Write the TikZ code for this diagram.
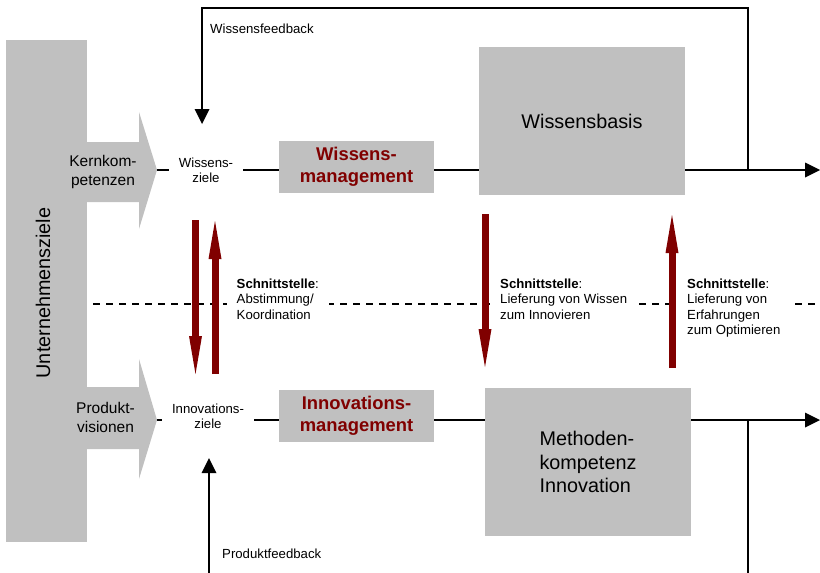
\documentclass[tikz,border=0pt]{standalone}
\usepackage{fontspec}
\setmainfont{Liberation Sans}
\usetikzlibrary{arrows.meta}
\definecolor{boxgray}{HTML}{C0C0C0}
\definecolor{darkred}{HTML}{800000}
\newcommand{\fsz}[2]{\fontsize{#1}{#2}\selectfont}
\begin{document}
\begin{tikzpicture}[x=1pt,y=-1pt,
  conn/.style={line width=1.6pt},
  blk/.style={-{Triangle[length=15pt,width=15pt,line width=0pt]}},
  redarr/.style={draw=darkred,line width=7pt,-{Triangle[length=38pt,width=13pt,line width=0pt]}},
  dashline/.style={line width=1.3pt,dash pattern=on 7pt off 6pt},
  mgmtbox/.style={fill=boxgray,inner sep=0pt,minimum width=155pt,minimum height=52pt,align=center,
    text=darkred,font=\bfseries\fsz{18.4}{21.5}},
  bigbox/.style={fill=boxgray,inner sep=0pt,minimum width=206pt,minimum height=148pt,font=\fsz{19.8}{23.5}},
  smalltxt/.style={font=\fsz{13.2}{15}},
  goaltxt/.style={smalltxt,align=center,inner xsep=10pt,inner ysep=0pt},
  sidetxt/.style={align=center,inner sep=0pt,font=\fsz{15.5}{18.5}},
  ifacetxt/.style={font=\fsz{13.2}{15.6},fill=white,inner xsep=10pt,inner ysep=2pt,anchor=base west}
]
\useasboundingbox (0,0) rectangle (820,573);

% Unternehmensziele bar with the two arrows
\node[fill=boxgray,inner sep=0pt,minimum width=81pt,minimum height=502pt] (uz) at (46.5,291) {};
\fill[boxgray] (87,142) -- (139,142) -- (139,112) -- (157,170) -- (139,229) -- (139,202) -- (87,202) -- cycle;
\fill[boxgray] (87,387) -- (139,387) -- (139,359) -- (157,420) -- (139,479) -- (139,449) -- (87,449) -- cycle;
\coordinate (ktip) at (157,170);
\coordinate (ptip) at (157,420);
\node[rotate=90,inner sep=0pt,font=\fsz{19.8}{23}] (uzt) at (43,293) {Unternehmensziele};
\node[sidetxt] (kk) at (103,172) {Kernkom-\\petenzen};
\node[sidetxt] (pv) at (105.5,417.5) {Produkt-\\visionen};

% goals
\node[goaltxt] (wz) at (206,170) {Wissens-\\ziele};
\node[goaltxt] (iz) at (208,416) {Innovations-\\ziele};

% management boxes
\node[mgmtbox] (wm) at (356.5,167) {Wissens-\\management};
\node[mgmtbox] (im) at (356.5,416) {Innovations-\\management};

% big boxes
\node[bigbox] (wb) at (582,121) {Wissensbasis};
\node[bigbox,align=left] (mk) at (588,462) {Methoden-\\kompetenz\\Innovation};

% row 1 connectors
\coordinate (r1end) at (820,170);
\coordinate (fbs) at (748,170);
\coordinate (fbc) at (202,8);
\coordinate (fbe) at (202,124);
\draw[conn] (ktip) -- (wz.west);
\draw[conn] (wz.east) -- (wz.east -| wm.west);
\draw[conn] (wm.east |- ktip) -- (wb.west |- ktip);
\draw[conn,blk] (wb.east |- ktip) -- (r1end);
\draw[conn,blk] (fbs) |- (fbc) -- (fbe);
\node[smalltxt,anchor=base west,inner sep=0pt] (wfb) at (210,33) {Wissensfeedback};

% row 2 connectors
\coordinate (r2end) at (820,420);
\coordinate (pbs) at (748,420);
\coordinate (pbe) at (748,573);
\coordinate (pfs) at (209,573);
\coordinate (pfe) at (209,458);
\draw[conn] (ptip) -- (ptip -| iz.west);
\draw[conn] (iz.east |- ptip) -- (im.west |- ptip);
\draw[conn] (im.east |- ptip) -- (mk.west |- ptip);
\draw[conn,blk] (mk.east |- ptip) -- (r2end);
\draw[conn] (pbs) -- (pbe);
\draw[conn,blk] (pfs) -- (pfe);
\node[smalltxt,anchor=base west,inner sep=0pt] (pfb) at (222,558) {Produktfeedback};

% interface line and texts
\coordinate (dl) at (93,304);
\coordinate (dr) at (820,304);
\draw[dashline] (dl) -- (dr);
\node[ifacetxt] (s1) at (226.5,288) {\vtop{\hbox{\textbf{Schnittstelle}:}\hbox{Abstimmung/}\hbox{Koordination}}};
\node[ifacetxt] (s2) at (490,288) {\vtop{\hbox{\textbf{Schnittstelle}:}\hbox{Lieferung von Wissen}\hbox{zum Innovieren}}};
\node[ifacetxt] (s3) at (677,288) {\vtop{\hbox{\textbf{Schnittstelle}:}\hbox{Lieferung von}\hbox{Erfahrungen}\hbox{zum Optimieren}}};

% red interface arrows
\coordinate (a1s) at (195.5,220);
\coordinate (a1e) at (195.5,374);
\coordinate (a2s) at (215,374);
\coordinate (a2e) at (215,221);
\coordinate (a3s) at (485,214);
\coordinate (a3e) at (485,367);
\coordinate (a4s) at (672,368);
\coordinate (a4e) at (672,215);
\draw[redarr] (a1s) -- (a1e);
\draw[redarr] (a2s) -- (a2e);
\draw[redarr] (a3s) -- (a3e);
\draw[redarr] (a4s) -- (a4e);
\end{tikzpicture}
\end{document}
